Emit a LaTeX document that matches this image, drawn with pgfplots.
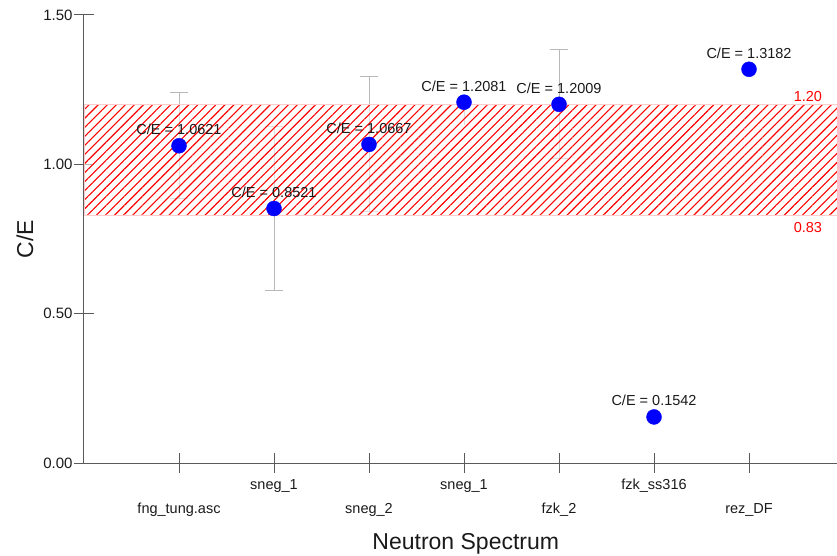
\documentclass[border=0pt]{standalone}
\usepackage{pgfplots}
\pgfplotsset{compat=1.18}
\usepackage{pgfplotstable}
\usepackage{fontspec}
\setmainfont{Liberation Sans}
\usetikzlibrary{patterns.meta}
\definecolor{axisgray}{HTML}{5A5A5A}
\definecolor{errgray}{HTML}{B8B8B8}
\definecolor{txt}{HTML}{1A1A1A}

\pgfplotstableread{
x y lab
1 1.0621 1.0621
2 0.8521 0.8521
3 1.0667 1.0667
4 1.2081 1.2081
5 1.2009 1.2009
6 0.1542 0.1542
7 1.3182 1.3182
}\cedata

\begin{document}
\begin{tikzpicture}
\begin{axis}[
  scale only axis,
  width=753bp, height=448bp,
  xmin=0, xmax=7.926, ymin=0, ymax=1.5,
  clip=false,
  axis x line*=bottom, axis y line*=left,
  axis line style={axisgray, line width=1bp},
  every tick/.style={axisgray, line width=1bp},
  tick align=center, major tick length=20bp,
  ytick={0,0.5,1,1.5},
  /pgf/number format/.cd, fixed, fixed zerofill, precision=2, assume math mode=true,
  /pgfplots/.cd,
  yticklabel style={font=\fontsize{15bp}{18bp}\selectfont, text=txt, xshift=2bp},
  xtick={1,3,5,7},
  xticklabels={{fng\_tung.asc},{sneg\_2},{fzk\_2},{rez\_DF}},
  xticklabel style={font=\fontsize{14.5bp}{17bp}\selectfont, text=txt, anchor=base, yshift=-40bp},
  extra x ticks={2,4,6},
  extra x tick labels={{sneg\_1},{sneg\_1},{fzk\_ss316}},
  extra x tick style={xticklabel style={yshift=24bp}},
  xlabel={Neutron Spectrum},
  ylabel={C/E},
  xlabel style={font=\fontsize{23bp}{27bp}\selectfont, text=txt, at={(axis description cs:0.507,-0.194)}, anchor=base},
  ylabel style={font=\fontsize{23bp}{27bp}\selectfont, text=txt, at={(axis description cs:-0.0677,0.5)}, anchor=base},
]
% error bars (behind the band)
\addplot[draw=none, mark=none, forget plot,
  error bars/.cd, y dir=both, y explicit,
  error bar style={errgray, line width=1bp},
  error mark options={errgray, rotate=90, mark size=9bp, line width=1bp}]
  coordinates {(1,1.0621) +- (0,0.177) (2,0.8521) +- (0,0.273) (3,1.0667) +- (0,0.226) (5,1.2009) +- (0,0.182)};
\addplot[draw=none, mark=none, forget plot,
  error bars/.cd, y dir=minus, y explicit,
  error bar style={errgray, line width=1bp},
  error mark options={errgray, rotate=90, mark size=0bp, line width=1bp}]
  coordinates {(4,1.2081) +- (0,0.076)};
% hatched band 0.83 -- 1.20
\addplot[draw=none, mark=none, fill=white, fill opacity=0.55, forget plot]
  coordinates {(0,0.83) (0,1.2) (7.926,1.2) (7.926,0.83)} -- cycle;
\addplot[draw=red!20, line width=0.6bp, mark=none, pattern={Lines[angle=45, distance=6.4bp, line width=1.1bp]}, pattern color=red]
  coordinates {(0,0.83) (0,1.2) (7.926,1.2) (7.926,0.83)} -- cycle;
% points
\addplot[only marks, mark=*, mark size=7.5bp, color=blue, fill=blue,
  point meta=explicit symbolic,
  nodes near coords={C/E = \pgfplotspointmeta},
  every node near coord/.append style={font=\fontsize{14.5bp}{17bp}\selectfont, text=txt, anchor=base, yshift=11bp}]
  table[x=x, y=y, meta=lab]{\cedata};
\node[text=red, font=\fontsize{14.5bp}{17bp}\selectfont, anchor=base] at (axis cs:7.62,1.2) [yshift=3.5bp] {1.20};
\node[text=red, font=\fontsize{14.5bp}{17bp}\selectfont, anchor=base] at (axis cs:7.62,0.83) [yshift=-17bp] {0.83};
\end{axis}
\pgfresetboundingbox
\path[use as bounding box] ([shift={(-84bp,-93bp)}]current axis.south west) rectangle ([shift={(0bp,15bp)}]current axis.north east);
\end{tikzpicture}
\end{document}
